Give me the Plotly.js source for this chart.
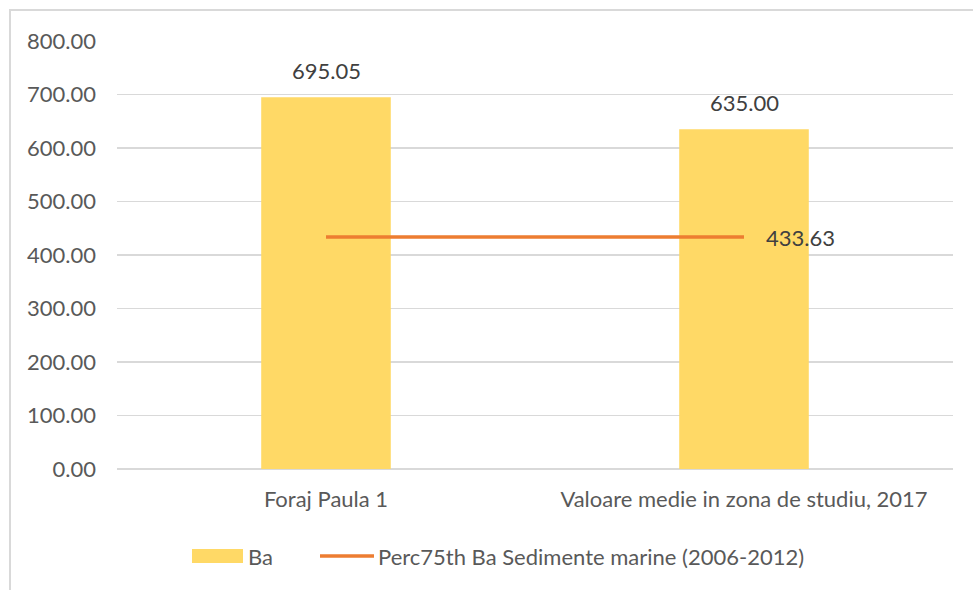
<!DOCTYPE html>
<html>
<head>
<meta charset="utf-8">
<script src="https://cdn.plot.ly/plotly-3.0.1.min.js"></script>
<style>
html,body{margin:0;padding:0;background:#fff;}
#chart{width:973px;height:590px;}
</style>
</head>
<body>
<div id="chart"></div>
<script>
const categories = ["Foraj Paula 1", "Valoare medie in zona de studiu, 2017"];
const baValues = [695.05, 635.00];
const percValues = [433.63, 433.63];
const barName = "Ba";
const lineName = "Perc75th Ba Sedimente marine (2006-2012)";
const yTicks = [0, 100, 200, 300, 400, 500, 600, 700, 800];

const FONT = "Lato, 'Open Sans', sans-serif";
const FS = 22;
const BAR_COLOR = "#FFD966";
const LINE_COLOR = "#ED7D31";
const fmt = v => v.toFixed(2);

const bar = {
  type: "bar",
  x: categories,
  y: baValues,
  name: barName,
  width: 0.31,
  marker: {color: BAR_COLOR},
  hoverinfo: "none"
};

const line = {
  type: "scatter",
  mode: "lines",
  x: categories,
  y: percValues,
  name: lineName,
  line: {color: LINE_COLOR, width: 3.5},
  hoverinfo: "none"
};

// paper-coordinate helpers (plot area: x 117..953 px, y 41..469 px)
const PX0 = 117, PW = 836, PY0 = 469, PH = 428;
const px = v => (v - PX0) / PW;
const py = v => (PY0 - v) / PH;

const annotations = categories.map((c, i) => ({
  x: c, y: baValues[i], xref: "x", yref: "y",
  text: fmt(baValues[i]),
  showarrow: false, yanchor: "bottom", yshift: 11,
  font: {family: FONT, size: FS, color: "#404040"}
}));
const lastIdx = percValues.length - 1;
annotations.push({
  x: categories[lastIdx], y: percValues[lastIdx], xref: "x", yref: "y",
  text: fmt(percValues[lastIdx]),
  showarrow: false, xanchor: "left", yanchor: "middle", xshift: 20,
  font: {family: FONT, size: FS, color: "#404040"}
});
// manual legend text
annotations.push({
  xref: "paper", yref: "paper", x: px(246), y: py(556),
  text: barName, showarrow: false, xanchor: "left", yanchor: "middle",
  font: {family: FONT, size: FS, color: "#595959"}
});
annotations.push({
  xref: "paper", yref: "paper", x: px(376), y: py(556),
  text: lineName, showarrow: false, xanchor: "left", yanchor: "middle",
  font: {family: FONT, size: FS, color: "#595959"}
});

const layout = {
  width: 973, height: 590,
  margin: {l: 117, r: 20, t: 41, b: 121},
  paper_bgcolor: "#fff", plot_bgcolor: "#fff",
  font: {family: FONT, color: "#595959", size: FS},
  showlegend: false,
  xaxis: {
    type: "category",
    showline: false, showgrid: false, zeroline: false,
    ticks: "", tickfont: {family: FONT, size: FS, color: "#595959"},
    ticklabelstandoff: 15,
    fixedrange: true
  },
  yaxis: {
    range: [0, 800],
    tickvals: yTicks,
    ticktext: yTicks.map(fmt),
    showgrid: true, gridcolor: "#D9D9D9", gridwidth: 1.5,
    zeroline: true, zerolinecolor: "#D9D9D9", zerolinewidth: 1.5,
    showline: false, ticks: "",
    tickfont: {family: FONT, size: FS, color: "#595959"},
    ticklabelstandoff: 20,
    fixedrange: true
  },
  shapes: [
    {
      type: "rect", xref: "paper", yref: "paper",
      x0: px(10), x1: px(995), y0: py(605), y1: py(10),
      line: {color: "#D9D9D9", width: 2}, fillcolor: "rgba(0,0,0,0)", layer: "below"
    },
    {
      type: "rect", xref: "paper", yref: "paper",
      x0: px(192), x1: px(243), y0: py(563), y1: py(549),
      line: {width: 0}, fillcolor: BAR_COLOR
    },
    {
      type: "line", xref: "paper", yref: "paper",
      x0: px(320), x1: px(374), y0: py(556), y1: py(556),
      line: {color: LINE_COLOR, width: 3.5}
    }
  ],
  annotations: annotations
};

Plotly.newPlot("chart", [bar, line], layout, {displayModeBar: false, staticPlot: true});
</script>
</body>
</html>
